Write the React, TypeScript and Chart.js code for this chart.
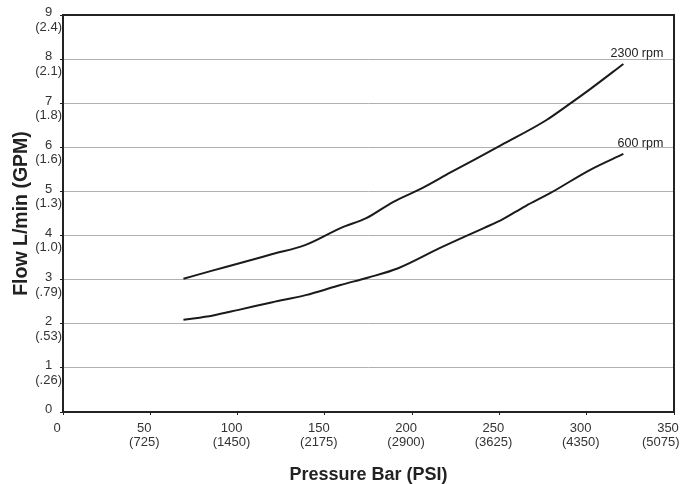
import React, { useEffect, useRef } from "react";
import { Chart, registerables } from "chart.js";

Chart.register(...registerables);

const xTickValues = [0, 50, 100, 150, 200, 250, 300, 350];
const xTickLabels: Record<number, string[]> = {
  0: ["0"],
  50: ["50", "(725)"],
  100: ["100", "(1450)"],
  150: ["150", "(2175)"],
  200: ["200", "(2900)"],
  250: ["250", "(3625)"],
  300: ["300", "(4350)"],
  350: ["350", "(5075)    "],
};
const yTickLabels: Record<number, string[]> = {
  0: ["0", ""],
  1: ["1", "(.26)"],
  2: ["2", "(.53)"],
  3: ["3", "(.79)"],
  4: ["4", "(1.0)"],
  5: ["5", "(1.3)"],
  6: ["6", "(1.6)"],
  7: ["7", "(1.8)"],
  8: ["8", "(2.1)"],
  9: ["9", "(2.4)"],
};

const pressure2300 = [69, 85, 100, 120, 139, 159, 174, 189, 206, 222, 251, 277, 289, 302, 321];
const flow2300 = [3.02, 3.2, 3.36, 3.58, 3.79, 4.17, 4.4, 4.76, 5.08, 5.43, 6.05, 6.62, 6.95, 7.32, 7.89];
const pressure600 = [69, 86, 100, 120, 139, 159, 175, 192, 216, 241, 251, 265, 279, 302, 321];
const flow600 = [2.09, 2.19, 2.31, 2.49, 2.65, 2.88, 3.05, 3.26, 3.72, 4.17, 4.35, 4.67, 4.96, 5.49, 5.85];

const FONT = "'Liberation Sans', Arial, Helvetica, sans-serif";

const frameAndLabels = {
  id: "frameAndLabels",
  afterDatasetsDraw(chart: any) {
    const { ctx, chartArea } = chart;
    ctx.save();
    ctx.strokeStyle = "#222";
    ctx.lineWidth = 2;
    ctx.strokeRect(chartArea.left, chartArea.top, chartArea.right - chartArea.left, chartArea.bottom - chartArea.top);
    ctx.fillStyle = "#222";
    ctx.font = `12.5px ${FONT}`;
    ctx.textAlign = "right";
    ctx.textBaseline = "alphabetic";
    chart.data.datasets.forEach((ds: any, i: number) => {
      const meta = chart.getDatasetMeta(i);
      const last = meta.data[meta.data.length - 1];
      ctx.fillText(ds.label, last.x + 40, last.y - 7);
    });
    ctx.restore();
  },
};

export default function App() {
  const ref = useRef<HTMLCanvasElement>(null);
  useEffect(() => {
    const chart = new Chart(ref.current!, {
      type: "line",
      data: {
        datasets: [
          {
            label: "2300 rpm",
            data: pressure2300.map((x, i) => ({ x, y: flow2300[i] })),
            borderColor: "#1a1a1a",
            borderWidth: 2,
            pointRadius: 0,
            cubicInterpolationMode: "monotone",
          },
          {
            label: "600 rpm",
            data: pressure600.map((x, i) => ({ x, y: flow600[i] })),
            borderColor: "#1a1a1a",
            borderWidth: 2,
            pointRadius: 0,
            cubicInterpolationMode: "monotone",
          },
        ],
      },
      options: {
        animation: false,
        responsive: true,
        maintainAspectRatio: false,
        layout: { padding: { top: 15, right: 6, left: 0, bottom: 0 } },
        plugins: { legend: { display: false }, tooltip: { enabled: false } },
        scales: {
          x: {
            type: "linear",
            min: 0,
            max: 350,
            afterBuildTicks: (s: any) => {
              s.ticks = xTickValues.map((v) => ({ value: v }));
            },
            afterFit: (s: any) => {
              s.height = 72;
              s.paddingLeft = 0;
              s.paddingRight = 0;
            },
            ticks: {
              callback: (v: any) => xTickLabels[v as number] ?? "",
              font: { family: FONT, size: 13, lineHeight: 1.05 },
              color: "#333",
              padding: 7,
              labelOffset: -6,
              maxRotation: 0,
              autoSkip: false,
            },
            grid: { display: true, drawOnChartArea: false, drawTicks: true, tickLength: 3, tickColor: "#222" },
            border: { display: false },
            title: {
              display: true,
              text: "Pressure Bar (PSI)",
              font: { family: FONT, size: 18, weight: "bold", lineHeight: 1.0 },
              color: "#222",
              padding: { top: 0, bottom: 0 },
            },
          },
          y: {
            min: 0,
            max: 9,
            afterBuildTicks: (s: any) => {
              s.ticks = Object.keys(yTickLabels).map((k) => ({ value: Number(k) }));
            },
            afterFit: (s: any) => {
              s.width = 63;
              s.paddingTop = 0;
              s.paddingBottom = 0;
            },
            ticks: {
              callback: (v: any) => yTickLabels[v as number] ?? "",
              font: { family: FONT, size: 13, lineHeight: 1.12 },
              color: "#333",
              padding: -2,
              crossAlign: "center",
              labelOffset: 5,
              autoSkip: false,
            },
            grid: { color: "#b0b0b0", lineWidth: 1, tickLength: 3, tickColor: "#222" },
            border: { display: false },
            title: {
              display: true,
              text: "Flow L/min (GPM)",
              font: { family: FONT, size: 19.5, weight: "bold", lineHeight: 1.2 },
              color: "#222",
              padding: { top: 10, bottom: 0 },
            },
          },
        },
      },
      plugins: [frameAndLabels],
    } as any);
    return () => chart.destroy();
  }, []);
  return (
    <div style={{ position: "fixed", left: 0, top: 0, width: 680, height: 484, background: "#fff" }}>
      <canvas ref={ref} />
    </div>
  );
}
